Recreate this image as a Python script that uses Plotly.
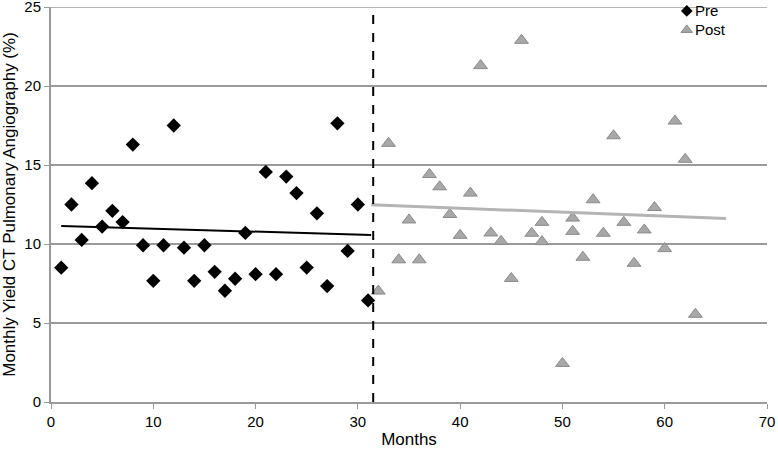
import plotly.graph_objects as go

# ---- data ----
pre_months = list(range(1, 32))
pre_yield = [8.5, 12.5, 10.26, 13.85, 11.1, 12.1, 11.39, 16.29, 9.92, 7.67,
             9.92, 17.5, 9.77, 7.67, 9.92, 8.24, 7.04, 7.8, 10.7, 8.09,
             14.56, 8.09, 14.27, 13.22, 8.51, 11.94, 7.34, 17.64, 9.56, 12.5,
             6.43]

post_months = [32, 33, 34, 35, 36, 37, 38, 39, 40, 41, 42, 43, 44, 45, 46, 47,
               48, 48, 50, 51, 51, 52, 53, 54, 55, 56, 57, 58, 59, 60, 61, 62, 63]
post_yield = [7.02, 16.37, 9.0, 11.52, 9.0, 14.4, 13.62, 11.87, 10.55, 13.22,
              21.29, 10.7, 10.17, 7.82, 22.89, 10.68, 11.37, 10.15, 2.44, 11.64,
              10.8, 9.16, 12.8, 10.68, 16.85, 11.37, 8.78, 10.89, 12.31, 9.71,
              17.78, 15.36, 5.55]

# trend lines as drawn in the reference (endpoints)
pre_trend_x = [1, 31.3]
pre_trend_y = [11.14, 10.57]
post_trend_x = [31.3, 66]
post_trend_y = [12.48, 11.62]

intervention_month = 31.5

x_range = [0, 70]
y_range = [0, 25]
x_ticks = [0, 10, 20, 30, 40, 50, 60, 70]
y_ticks = [0, 5, 10, 15, 20, 25]

# legend layout (fractions of the plot area)
legend_names = ["Pre", "Post"]
legend_key_x = 0.888
legend_text_x = 0.897
legend_rows_y = [0.99, 0.942]

FONT = "Liberation Sans, Arial, sans-serif"
GRID = "#9a9a9a"


def frac_x(f):
    return x_range[0] + f * (x_range[1] - x_range[0])


def frac_y(f):
    return y_range[0] + f * (y_range[1] - y_range[0])


pre_marker = dict(symbol="diamond", size=11, color="black")
post_marker = dict(symbol="triangle-up", size=12, color="#a8a8a8",
                   line=dict(color="#8a8a8a", width=1))

fig = go.Figure()

# top boundary line (gridline at the top of the range)
fig.add_hline(y=y_range[1], line=dict(color=GRID, width=1.5), layer="below")

fig.add_trace(go.Scatter(x=pre_months, y=pre_yield, mode="markers",
                         name="Pre", marker=pre_marker))
fig.add_trace(go.Scatter(x=post_months, y=post_yield, mode="markers",
                         name="Post", marker=post_marker))
fig.add_trace(go.Scatter(x=pre_trend_x, y=pre_trend_y, mode="lines",
                         line=dict(color="black", width=2), hoverinfo="skip"))
fig.add_trace(go.Scatter(x=post_trend_x, y=post_trend_y, mode="lines",
                         line=dict(color="#b4b4b4", width=3), hoverinfo="skip"))

# legend keys (placed at plot-area fractions)
fig.add_trace(go.Scatter(x=[frac_x(legend_key_x)], y=[frac_y(legend_rows_y[0])],
                         mode="markers",
                         marker=dict(symbol="diamond", size=9, color="black"),
                         hoverinfo="skip", cliponaxis=False))
fig.add_trace(go.Scatter(x=[frac_x(legend_key_x)], y=[frac_y(legend_rows_y[1])],
                         mode="markers",
                         marker=dict(symbol="triangle-up", size=10, color="#a8a8a8",
                                     line=dict(color="#8a8a8a", width=1)),
                         hoverinfo="skip", cliponaxis=False))
for name, yy in zip(legend_names, legend_rows_y):
    fig.add_annotation(x=legend_text_x, y=yy, xref="paper", yref="paper", text=name,
                       showarrow=False, xanchor="left", yanchor="middle",
                       font=dict(size=15))

fig.add_vline(x=intervention_month, line=dict(color="black", width=2, dash="dash"))

fig.update_layout(
    width=778, height=449,
    margin=dict(l=51, r=11, t=7, b=47),
    paper_bgcolor="white", plot_bgcolor="white",
    font=dict(family=FONT, size=15, color="black"),
    showlegend=False,
)
fig.update_xaxes(
    range=x_range, tickvals=x_ticks, showgrid=False, zeroline=False,
    automargin=False, ticklabeloverflow="allow",
    showline=True, linecolor=GRID, linewidth=2,
    ticks="outside", tickcolor=GRID, ticklen=5, tickwidth=1,
    title=dict(text="Months", font=dict(size=17), standoff=6),
)
fig.update_yaxes(
    range=y_range, tickvals=y_ticks, showgrid=True, gridcolor=GRID,
    gridwidth=1.5, zeroline=False, automargin=False, ticklabeloverflow="allow",
    showline=True, linecolor=GRID, linewidth=2,
    ticks="outside", tickcolor=GRID, ticklen=5, tickwidth=1,
    title=dict(text="Monthly Yield CT Pulmonary Angiography (%)",
               font=dict(size=17), standoff=6),
)

fig.write_html("out.html", config={"displayModeBar": False},
               post_script="document.body.style.margin='0';document.body.style.padding='0';")
